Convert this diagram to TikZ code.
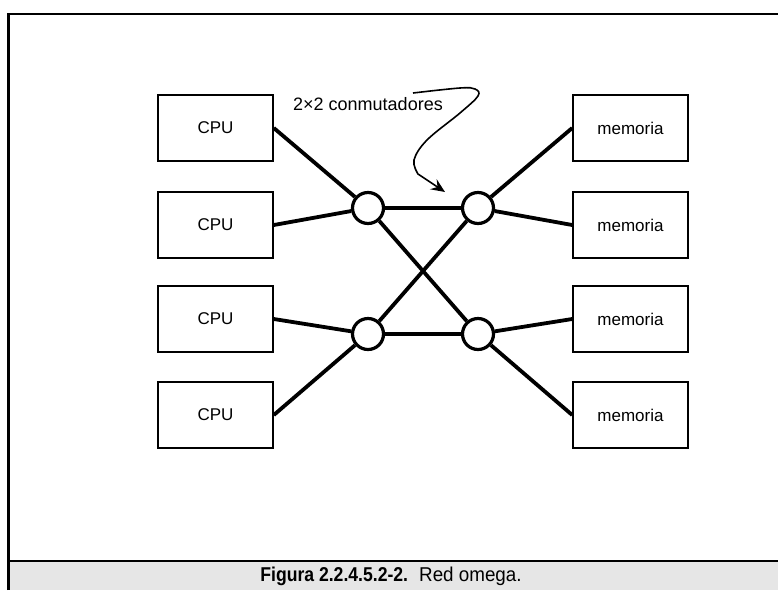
\documentclass[tikz,border=0pt]{standalone}
\usepackage{fontspec}
\setmainfont{Liberation Sans}
\usetikzlibrary{arrows.meta}
\definecolor{bandgray}{RGB}{230,230,230}

\tikzset{
    unitbox/.style={draw, line width=1.6pt, minimum width=115pt, minimum height=66pt, inner sep=0pt, font=\fontsize{17}{20}\selectfont},
    switchnode/.style={draw, circle, line width=3.2pt, fill=white, minimum size=31pt, inner sep=0pt},
    link/.style={line width=3.8pt}
}

\begin{document}
\begin{tikzpicture}[x=1pt, y=-1pt]

    \useasboundingbox (0,0) rectangle (778,590);

    % frame and caption band
    \fill[bandgray] (8.5,561) rectangle (778,590);
    \draw[line width=2.5pt] (8.5,590) -- (8.5,14) -- (778,14);
    \draw[line width=2.5pt] (8.5,561) -- (778,561);
    \node (caption) at (391,576) {\fontsize{20}{23}\selectfont\scalebox{0.88}[1]{\textbf{Figura 2.2.4.5.2-2.}}\ \ \scalebox{0.94}[1]{Red omega.}};

    % processors and memories
    \node[unitbox] (cpuA) at (215.5,128) {CPU};
    \node[unitbox] (cpuB) at (215.5,225) {CPU};
    \node[unitbox] (cpuC) at (215.5,319) {CPU};
    \node[unitbox] (cpuD) at (215.5,415) {CPU};
    \node[unitbox] (memA) at (630.5,128) {memoria};
    \node[unitbox] (memB) at (630.5,225) {memoria};
    \node[unitbox] (memC) at (630.5,319) {memoria};
    \node[unitbox] (memD) at (630.5,415) {memoria};

    % switches
    \node[switchnode] (swA) at (368,208) {};
    \node[switchnode] (swB) at (478,208) {};
    \node[switchnode] (swC) at (368,334) {};
    \node[switchnode] (swD) at (478,334) {};

    \draw[link] (cpuA.east) -- (swA);
    \draw[link] (cpuB.east) -- (swA);
    \draw[link] (cpuC.east) -- (swC);
    \draw[link] (cpuD.east) -- (swC);
    \draw[link] (swA) -- (swB);
    \draw[link] (swC) -- (swD);
    \draw[link] (swA) -- (swD);
    \draw[link] (swC) -- (swB);
    \draw[link] (swB) -- (memA.west);
    \draw[link] (swB) -- (memB.west);
    \draw[link] (swD) -- (memC.west);
    \draw[link] (swD) -- (memD.west);

    % label with curly arrow
    \node[anchor=base west, font=\fontsize{18}{21}\selectfont, inner sep=0pt] (swlabel) at (293,110) {2×2 conmutadores};
    \coordinate (tip) at (445,192);
    \draw[line width=1.6pt, -{Stealth[length=14pt, width=12pt, inset=5pt]}] plot[smooth, tension=0.6] coordinates {(413,93) (460,88) (475,89) (478,96) (460,113) (427,140) (414,160) (418,174)} -- (tip);

\end{tikzpicture}
\end{document}
